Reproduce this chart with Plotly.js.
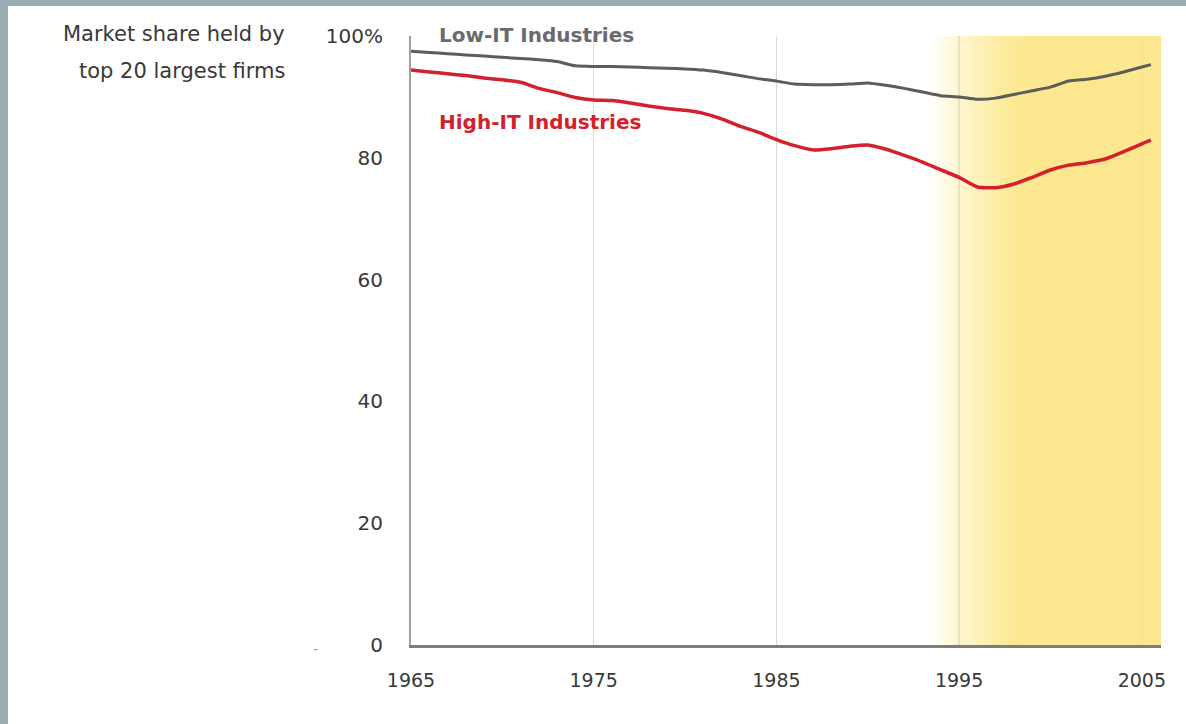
<!DOCTYPE html>
<html>
<head>
<meta charset="utf-8">
<script src="https://cdn.plot.ly/plotly-3.0.1.min.js"></script>
<style>
  html, body { margin: 0; padding: 0; width: 1186px; height: 724px; overflow: hidden; background: #9bacb3; }
  #chart { position: absolute; left: 8px; top: 6px; width: 1178px; height: 718px; background: #ffffff; }
</style>
</head>
<body>
<div id="chart"></div>
<script>
// Market share of the top 20 firms, by industry IT intensity
const years = [1965, 1966, 1967, 1968, 1969, 1970, 1971, 1972, 1973, 1974,
               1975, 1976, 1977, 1978, 1979, 1980, 1981, 1982, 1983, 1984,
               1985, 1986, 1987, 1988, 1989, 1990, 1991, 1992, 1993, 1994,
               1995, 1996, 1997, 1998, 1999, 2000, 2001, 2002, 2003, 2004,
               2005, 2005.5];

const lowIT = [97.5, 97.3, 97.1, 96.9, 96.7, 96.5, 96.3, 96.1, 95.8, 95.1,
               95.0, 95.0, 94.9, 94.8, 94.7, 94.6, 94.4, 94.0, 93.5, 93.0,
               92.6, 92.1, 92.0, 92.0, 92.1, 92.3, 91.9, 91.4, 90.8, 90.2,
               90.0, 89.6, 89.8, 90.4, 91.0, 91.6, 92.6, 92.9, 93.4, 94.1,
               94.9, 95.3];

const highIT = [94.4, 94.1, 93.8, 93.5, 93.1, 92.8, 92.4, 91.4, 90.7, 89.9,
                89.5, 89.4, 89.0, 88.5, 88.1, 87.8, 87.3, 86.4, 85.2, 84.2,
                83.0, 82.0, 81.3, 81.5, 81.9, 82.1, 81.4, 80.4, 79.3, 78.0,
                76.8, 75.2, 75.1, 75.7, 76.8, 78.0, 78.8, 79.2, 79.8, 81.0,
                82.3, 82.9];

// Highlighted period (fades in from the left edge)
const shadeYears = [1993.6, 2006.05];
const shadeFade = [1993.4, 1998.6];

const xTicks = [1965, 1975, 1985, 1995, 2005];
const yTicks = [0, 20, 40, 60, 80, 100];
const yTickLabels = ['0', '20', '40', '60', '80', '100%'];

const seriesNames = ['Low-IT Industries', 'High-IT Industries'];
const yTitleLines = ['Market share held by', 'top 20 largest firms'];

const FONT = 'DejaVu Sans, sans-serif';
const GRAY = '#5c5c5c';
const RED = '#d3202c';

const traces = [
  {
    x: [shadeYears[0], shadeYears[1], shadeYears[1], shadeYears[0], shadeYears[0]],
    y: [0, 0, 100, 100, 0],
    mode: 'lines',
    line: { width: 0 },
    fill: 'toself',
    fillcolor: 'rgba(252,231,135,0.9)',
    fillgradient: {
      type: 'horizontal',
      start: shadeFade[0],
      stop: shadeFade[1],
      colorscale: [[0, 'rgba(252,235,150,0)'], [0.3, 'rgba(252,235,155,0.45)'],
                   [0.7, 'rgba(252,232,140,0.8)'], [1, 'rgba(252,229,130,0.9)']]
    },
    hoverinfo: 'skip',
    showlegend: false
  },
  {
    x: years, y: lowIT, name: seriesNames[0],
    mode: 'lines',
    line: { color: GRAY, width: 3, shape: 'spline', smoothing: 0.5 },
    showlegend: false
  },
  {
    x: years, y: highIT, name: seriesNames[1],
    mode: 'lines',
    line: { color: RED, width: 3.5, shape: 'spline', smoothing: 0.5 },
    showlegend: false
  }
];

const layout = {
  width: 1178,
  height: 718,
  margin: { l: 403, r: 25, t: 30, b: 79 },
  paper_bgcolor: '#ffffff',
  plot_bgcolor: '#ffffff',
  font: { family: FONT, color: '#333333', size: 19 },
  xaxis: {
    range: [1965, 2006.05],
    tickvals: xTicks,
    ticktext: xTicks.map(String),
    ticks: '',
    ticklabelstandoff: 17,
    showgrid: true,
    gridcolor: '#d9d9d9',
    gridwidth: 1.5,
    zeroline: false,
    showline: true,
    linecolor: '#7d7d7d',
    linewidth: 2.5,
    tickfont: { family: FONT, size: 19, color: '#383838' },
    fixedrange: true
  },
  yaxis: {
    range: [0, 100],
    tickvals: yTicks,
    ticktext: yTickLabels,
    ticks: '',
    ticklabelstandoff: 22,
    showgrid: false,
    zeroline: false,
    showline: true,
    linecolor: '#a0a0a0',
    linewidth: 2,
    tickfont: { family: FONT, size: 20, color: '#383838' },
    fixedrange: true
  },
  annotations: [
    {
      xref: 'x', yref: 'paper', x: 1966.4, y: 1.002,
      text: seriesNames[0], showarrow: false,
      xanchor: 'left', yanchor: 'middle',
      font: { family: FONT, size: 20, color: '#6a6a6a', weight: 'bold' }
    },
    {
      xref: 'x', yref: 'y', x: 1966.4, y: 85.9,
      text: seriesNames[1], showarrow: false,
      xanchor: 'left', yanchor: 'middle',
      font: { family: FONT, size: 20, color: RED, weight: 'bold' }
    },
    {
      xref: 'paper', yref: 'paper', x: -0.1653, y: 1.003,
      text: yTitleLines[0], showarrow: false,
      xanchor: 'right', yanchor: 'middle',
      font: { family: FONT, size: 21, color: '#383838' }
    },
    {
      xref: 'paper', yref: 'paper', x: -0.1653, y: 0.942,
      text: yTitleLines[1], showarrow: false,
      xanchor: 'right', yanchor: 'middle',
      font: { family: FONT, size: 21, color: '#383838' }
    },
    {
      xref: 'paper', yref: 'paper', x: -0.128, y: -0.006,
      text: '-', showarrow: false,
      xanchor: 'center', yanchor: 'middle',
      font: { family: FONT, size: 14, color: '#9a9a9a' }
    }
  ]
};

Plotly.newPlot('chart', traces, layout, { displayModeBar: false, staticPlot: true });
</script>
</body>
</html>
